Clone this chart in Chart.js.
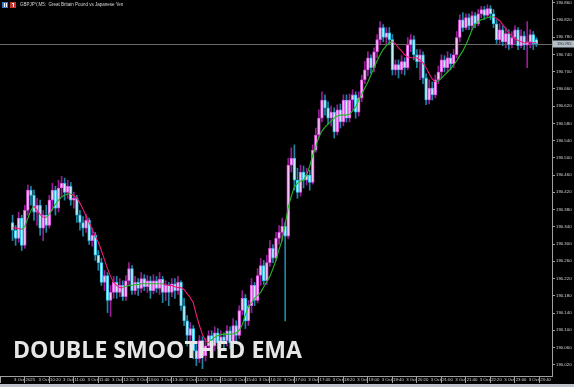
<!DOCTYPE html>
<html>
<head>
<meta charset="utf-8">
<script src="https://cdn.jsdelivr.net/npm/chart.js@4.4.1/dist/chart.umd.min.js"></script>
<style>
    html, body { margin: 0; padding: 0; background: #000; }
    canvas { display: block; }
</style>
</head>
<body>
<canvas id="myChart" width="574" height="387"></canvas>
<script>
// GBPJPY M5, 3 Oct 2025, bars from 09:40 to 23:55
var opens = [
    190.350, 190.332, 190.313, 190.360, 190.297, 190.378, 190.425, 190.413, 190.374, 190.390,
    190.337, 190.367, 190.343, 190.402, 190.425, 190.383, 190.430, 190.441, 190.420, 190.434,
    190.402, 190.406, 190.367, 190.350, 190.337, 190.355, 190.308, 190.320, 190.274, 190.257,
    190.211, 190.227, 190.169, 190.188, 190.211, 190.188, 190.204, 190.178, 190.215, 190.243,
    190.192, 190.211, 190.197, 190.220, 190.201, 190.215, 190.192, 190.215, 190.197, 190.218,
    190.188, 190.204, 190.188, 190.208, 190.192, 190.211, 190.157, 190.122, 190.088, 190.104,
    190.053, 190.034, 190.076, 190.041, 190.064, 190.088, 190.064, 190.094, 190.071, 190.085,
    190.076, 190.099, 190.071, 190.111, 190.088, 190.146, 190.174, 190.122, 190.157, 190.204,
    190.169, 190.227, 190.250, 190.215, 190.257, 190.290, 190.267, 190.313, 190.327, 190.341,
    190.318, 190.483, 190.499, 190.448, 190.420, 190.467, 190.448, 190.460, 190.443, 190.518,
    190.553, 190.592, 190.634, 190.616, 190.592, 190.606, 190.560, 190.611, 190.583, 190.634,
    190.592, 190.634, 190.646, 190.606, 190.639, 190.681, 190.704, 190.732, 190.709, 190.746,
    190.774, 190.802, 190.779, 190.790, 190.774, 190.704, 190.716, 190.704, 190.723, 190.709,
    190.762, 190.774, 190.739, 190.723, 190.739, 190.685, 190.634, 190.662, 190.646, 190.681,
    190.699, 190.727, 190.709, 190.732, 190.718, 190.739, 190.779, 190.820, 190.802, 190.825,
    190.806, 190.830, 190.811, 190.834, 190.844, 190.830, 190.846, 190.834, 190.811, 190.774,
    190.797, 190.769, 190.788, 190.762, 190.779, 190.797, 190.760, 190.783, 190.762, 190.769,
    190.786, 190.774
];
var highs = [
    190.367, 190.343, 190.374, 190.367, 190.390, 190.437, 190.434, 190.425, 190.406, 190.402,
    190.378, 190.390, 190.413, 190.441, 190.434, 190.448, 190.457, 190.453, 190.448, 190.443,
    190.420, 190.413, 190.378, 190.364, 190.369, 190.360, 190.337, 190.327, 190.285, 190.267,
    190.239, 190.234, 190.204, 190.225, 190.225, 190.220, 190.215, 190.227, 190.257, 190.250,
    190.225, 190.220, 190.234, 190.229, 190.227, 190.225, 190.229, 190.225, 190.234, 190.225,
    190.215, 190.211, 190.220, 190.220, 190.225, 190.215, 190.174, 190.134, 190.118, 190.111,
    190.071, 190.088, 190.085, 190.081, 190.099, 190.099, 190.108, 190.104, 190.099, 190.094,
    190.111, 190.108, 190.127, 190.122, 190.157, 190.192, 190.183, 190.169, 190.220, 190.211,
    190.243, 190.267, 190.262, 190.274, 190.308, 190.299, 190.327, 190.343, 190.360, 190.350,
    190.499, 190.523, 190.530, 190.476, 190.483, 190.481, 190.476, 190.471, 190.530, 190.569,
    190.611, 190.653, 190.646, 190.630, 190.620, 190.616, 190.623, 190.625, 190.646, 190.646,
    190.648, 190.658, 190.653, 190.653, 190.692, 190.723, 190.746, 190.739, 190.755, 190.786,
    190.816, 190.809, 190.802, 190.802, 190.786, 190.727, 190.727, 190.737, 190.732, 190.779,
    190.786, 190.783, 190.751, 190.751, 190.746, 190.695, 190.681, 190.676, 190.692, 190.713,
    190.739, 190.737, 190.746, 190.741, 190.751, 190.793, 190.832, 190.837, 190.834, 190.834,
    190.839, 190.837, 190.844, 190.851, 190.851, 190.855, 190.853, 190.844, 190.820, 190.811,
    190.806, 190.802, 190.797, 190.793, 190.806, 190.802, 190.797, 190.793, 190.816, 190.797,
    190.793, 190.779
];
var lows = [
    190.308, 190.297, 190.304, 190.285, 190.290, 190.367, 190.390, 190.355, 190.343, 190.320,
    190.308, 190.327, 190.337, 190.378, 190.367, 190.374, 190.411, 190.402, 190.406, 190.390,
    190.383, 190.350, 190.332, 190.318, 190.327, 190.299, 190.295, 190.262, 190.239, 190.204,
    190.192, 190.141, 190.132, 190.174, 190.174, 190.178, 190.169, 190.169, 190.206, 190.183,
    190.183, 190.181, 190.188, 190.192, 190.188, 190.174, 190.185, 190.188, 190.183, 190.164,
    190.169, 190.157, 190.178, 190.174, 190.183, 190.146, 190.111, 190.064, 190.076, 190.034,
    190.018, 190.025, 190.011, 190.029, 190.053, 190.041, 190.053, 190.057, 190.062, 190.053,
    190.064, 190.057, 190.062, 190.071, 190.081, 190.136, 190.104, 190.111, 190.141, 190.157,
    190.164, 190.204, 190.206, 190.206, 190.248, 190.257, 190.262, 190.299, 190.308, 190.122,
    190.313, 190.467, 190.425, 190.406, 190.411, 190.430, 190.437, 190.425, 190.439, 190.513,
    190.546, 190.583, 190.599, 190.578, 190.574, 190.546, 190.553, 190.569, 190.574, 190.583,
    190.583, 190.611, 190.592, 190.597, 190.630, 190.672, 190.690, 190.695, 190.699, 190.732,
    190.765, 190.769, 190.765, 190.762, 190.692, 190.692, 190.685, 190.695, 190.692, 190.704,
    190.746, 190.727, 190.709, 190.681, 190.672, 190.623, 190.625, 190.634, 190.639, 190.672,
    190.685, 190.699, 190.699, 190.704, 190.709, 190.732, 190.769, 190.793, 190.797, 190.797,
    190.797, 190.802, 190.806, 190.825, 190.820, 190.825, 190.820, 190.802, 190.765, 190.765,
    190.760, 190.755, 190.751, 190.755, 190.765, 190.751, 190.755, 190.751, 190.709, 190.755,
    190.751, 190.758
];
var closes = [
    190.332, 190.313, 190.360, 190.297, 190.378, 190.425, 190.413, 190.374, 190.390, 190.337,
    190.367, 190.343, 190.402, 190.425, 190.383, 190.430, 190.441, 190.420, 190.434, 190.402,
    190.406, 190.367, 190.350, 190.337, 190.355, 190.308, 190.320, 190.274, 190.257, 190.211,
    190.227, 190.169, 190.188, 190.211, 190.188, 190.204, 190.178, 190.215, 190.243, 190.192,
    190.211, 190.197, 190.220, 190.201, 190.215, 190.192, 190.215, 190.197, 190.218, 190.188,
    190.204, 190.188, 190.208, 190.192, 190.211, 190.157, 190.122, 190.088, 190.104, 190.053,
    190.034, 190.076, 190.041, 190.064, 190.088, 190.064, 190.094, 190.071, 190.085, 190.076,
    190.099, 190.071, 190.111, 190.088, 190.146, 190.174, 190.122, 190.157, 190.204, 190.169,
    190.227, 190.250, 190.215, 190.257, 190.290, 190.267, 190.313, 190.327, 190.341, 190.318,
    190.483, 190.499, 190.448, 190.420, 190.467, 190.448, 190.460, 190.443, 190.518, 190.553,
    190.592, 190.634, 190.616, 190.592, 190.606, 190.560, 190.611, 190.583, 190.634, 190.592,
    190.634, 190.646, 190.606, 190.639, 190.681, 190.704, 190.732, 190.709, 190.746, 190.774,
    190.802, 190.779, 190.790, 190.774, 190.704, 190.716, 190.704, 190.723, 190.709, 190.762,
    190.774, 190.739, 190.723, 190.739, 190.685, 190.634, 190.662, 190.646, 190.681, 190.699,
    190.727, 190.709, 190.732, 190.718, 190.739, 190.779, 190.820, 190.802, 190.825, 190.806,
    190.830, 190.811, 190.834, 190.844, 190.830, 190.846, 190.834, 190.811, 190.774, 190.797,
    190.769, 190.788, 190.762, 190.779, 190.797, 190.760, 190.783, 190.762, 190.769, 190.786,
    190.765, 190.765
];
// Double Smoothed EMA
var dsema = [
    190.337, 190.337, 190.336, 190.334, 190.341, 190.360, 190.378, 190.388, 190.378, 190.369,
    190.362, 190.362, 190.369, 190.381, 190.392, 190.402, 190.409, 190.413, 190.416, 190.416,
    190.413, 190.406, 190.395, 190.381, 190.365, 190.350, 190.334, 190.318, 190.304, 190.285,
    190.264, 190.243, 190.225, 190.211, 190.204, 190.199, 190.199, 190.202, 190.204, 190.204,
    190.206, 190.206, 190.208, 190.208, 190.208, 190.208, 190.208, 190.208, 190.208, 190.208,
    190.206, 190.204, 190.204, 190.201, 190.199, 190.199, 190.194, 190.185, 190.176, 190.164,
    190.136, 190.111, 190.090, 190.076, 190.071, 190.078, 190.084, 190.088, 190.090, 190.091,
    190.091, 190.091, 190.092, 190.094, 190.100, 190.113, 190.136, 190.155, 190.164, 190.174,
    190.181, 190.188, 190.201, 190.213, 190.225, 190.243, 190.262, 190.288, 190.309, 190.346,
    190.385, 190.411, 190.432, 190.441, 190.446, 190.448, 190.460, 190.481, 190.506, 190.527,
    190.548, 190.562, 190.571, 190.578, 190.585, 190.592, 190.597, 190.599, 190.599, 190.599,
    190.601, 190.609, 190.618, 190.634, 190.648, 190.662, 190.676, 190.692, 190.709, 190.725,
    190.739, 190.751, 190.760, 190.767, 190.769, 190.765, 190.755, 190.748, 190.739, 190.734,
    190.732, 190.732, 190.732, 190.727, 190.720, 190.709, 190.695, 190.683, 190.676, 190.678,
    190.685, 190.692, 190.699, 190.707, 190.716, 190.725, 190.737, 190.748, 190.762, 190.779,
    190.797, 190.809, 190.816, 190.820, 190.823, 190.825, 190.827, 190.827, 190.823, 190.818,
    190.809, 190.800, 190.790, 190.783, 190.776, 190.772, 190.769, 190.767, 190.767, 190.767,
    190.767, 190.767
];
var yTicks = [190.020, 190.060, 190.100, 190.140, 190.180, 190.220, 190.260, 190.300, 190.340,
    190.380, 190.420, 190.460, 190.500, 190.540, 190.580, 190.620, 190.660, 190.700, 190.740,
    190.780, 190.820, 190.860];
var timeTicks = ['09:40', '10:20', '11:00', '11:40', '12:20', '13:00', '13:40', '14:20', '15:00',
    '15:40', '16:20', '17:00', '17:40', '18:20', '19:00', '19:40', '20:20', '21:00', '21:40',
    '22:20', '23:00', '23:40'];

var times = [];
for (var i = 0; i < closes.length; i++) {
    var m = 9 * 60 + 40 + i * 5;
    times.push(String(Math.floor(m / 60)).padStart(2, '0') + ':' + String(m % 60).padStart(2, '0'));
}
var tickIdx = timeTicks.map(t => times.indexOf(t));

var isBull = closes.map((c, i) => c >= opens[i]);

// colour of the line: up = green, down = pink, flat keeps previous
var trendUp = [false];
for (var i = 1; i < dsema.length; i++) {
    if (dsema[i] > dsema[i - 1]) trendUp.push(true);
    else if (dsema[i] < dsema[i - 1]) trendUp.push(false);
    else trendUp.push(trendUp[i - 1]);
}

var GRID = '#a0a0a0';
var TXT = '#d6d6d6';

var mtDecor = {
    id: 'mtDecor',
    beforeDraw: function(chart) {
        var c = chart.ctx;
        c.save();
        c.fillStyle = '#000000';
        c.fillRect(0, 0, chart.width, chart.height);
        c.fillStyle = '#bcc3ca';
        c.fillRect(0, 384, chart.width, 3);
        c.restore();
    },
    beforeDatasetsDraw: function(chart) {
        var c = chart.ctx, a = chart.chartArea;
        var py = Math.round(chart.scales.y.getPixelForValue(closes[closes.length - 1])) + 0.5;
        c.save();
        c.strokeStyle = '#6a6a6a';
        c.lineWidth = 1;
        c.beginPath();
        c.moveTo(a.left, py);
        c.lineTo(a.right, py);
        c.stroke();
        c.restore();
    },
    afterDraw: function(chart) {
        var c = chart.ctx, a = chart.chartArea;
        var last = closes[closes.length - 1];
        var py = Math.round(chart.scales.y.getPixelForValue(last));
        c.save();
        // price tag
        c.fillStyle = '#b4bec8';
        c.fillRect(a.right + 1, py - 3.5, chart.width - a.right - 1, 7);
        c.fillStyle = '#1c1c1c';
        c.font = '4px "Liberation Sans"';
        c.textBaseline = 'middle';
        c.fillText(last.toFixed(3), a.right + 5, py);

        // header
        c.fillStyle = '#3f73c4';
        c.fillRect(2, 2, 6, 6);
        c.fillStyle = '#c83232';
        c.fillRect(10, 2, 6, 6);
        c.fillStyle = '#ffffff';
        c.fillRect(4, 3, 1, 4);
        c.fillRect(6, 3, 1, 4);
        c.fillRect(12, 3, 2, 1);
        c.fillRect(13, 4, 1, 3);
        c.fillStyle = TXT;
        c.font = '4.5px "Liberation Sans"';
        c.fillText('GBPJPY,M5:  Great Britain Pound vs Japanese Yen', 20, 5);

        // watermark
        c.font = 'bold 24px "Open Sans"';
        c.textBaseline = 'alphabetic';
        var txt = 'DOUBLE SMOOTHED EMA';
        var w = c.measureText(txt).width;
        c.translate(13, 358);
        c.scale(289 / w, 1);
        c.fillStyle = '#e6e6e6';
        c.fillText(txt, 0, 0);
        c.restore();
    }
};

var ctx = document.getElementById('myChart').getContext('2d');

var myChart = new Chart(ctx, {
    type: 'bar',
    data: {
        datasets: [{
            type: 'line',
            label: 'DSEMA',
            data: dsema.map((v, i) => ({ x: i, y: v })),
            borderWidth: 1.1,
            pointRadius: 0,
            tension: 0,
            segment: {
                borderColor: s => trendUp[s.p1DataIndex] ? '#24b824' : '#ee1a7a'
            },
            borderColor: '#24b824',
            order: 1
        }, {
            label: 'body',
            data: closes.map((c, i) => ({ x: i, y: [opens[i], c] })),
            backgroundColor: isBull.map(b => b ? '#f8c4f8' : '#c4f0fa'),
            borderColor: isBull.map(b => b ? '#e050e0' : '#2cc0e8'),
            borderWidth: 1,
            borderSkipped: false,
            barThickness: 2.8,
            grouped: false,
            order: 2
        }, {
            label: 'wick',
            data: closes.map((c, i) => ({ x: i, y: [lows[i], highs[i]] })),
            backgroundColor: isBull.map(b => b ? '#9b1c9b' : '#1f86a6'),
            borderWidth: 0,
            barThickness: 1,
            grouped: false,
            order: 3
        }]
    },
    options: {
        responsive: false,
        animation: false,
        devicePixelRatio: 1,
        events: [],
        layout: { padding: 0 },
        plugins: {
            legend: { display: false },
            tooltip: { enabled: false }
        },
        scales: {
            x: {
                type: 'linear',
                min: 0,
                max: 172,
                grid: { drawOnChartArea: false, drawTicks: true, tickLength: 7, color: GRID },
                border: { color: GRID },
                ticks: {
                    color: TXT,
                    font: { family: 'Liberation Sans', size: 4.3 },
                    align: 'start',
                    padding: -6,
                    labelOffset: 1.5,
                    maxRotation: 0,
                    autoSkip: false,
                    callback: function(v) {
                        if (v === 0) return '3 Oct 2025';
                        return '3 Oct ' + times[v];
                    }
                },
                afterBuildTicks: function(scale) {
                    scale.ticks = tickIdx.map(i => ({ value: i }));
                },
                afterFit: function(scale) {
                    scale.height = 11;
                    scale.paddingLeft = 0;
                    scale.paddingRight = 0;
                }
            },
            y: {
                position: 'right',
                min: 189.994,
                max: 190.866,
                grid: { drawOnChartArea: false, drawTicks: true, tickLength: 3, color: GRID },
                border: { color: GRID },
                ticks: {
                    color: TXT,
                    font: { family: 'Liberation Sans', size: 4.3 },
                    padding: 1,
                    callback: function(v) { return v.toFixed(3); }
                },
                afterBuildTicks: function(scale) {
                    scale.ticks = yTicks.map(v => ({ value: v }));
                },
                afterFit: function(scale) {
                    scale.width = 22;
                    scale.paddingTop = 0;
                    scale.paddingBottom = 0;
                }
            }
        }
    },
    plugins: [mtDecor]
});
</script>
</body>
</html>
